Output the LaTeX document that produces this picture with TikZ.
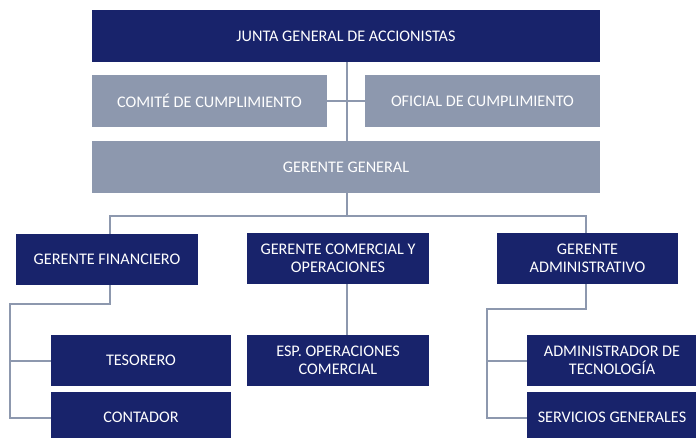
\documentclass[tikz,border=0pt]{standalone}
\usepackage{fontspec}
\setmainfont{Carlito}
\definecolor{navy}{HTML}{18236B}
\definecolor{slate}{HTML}{8D98AE}
\begin{document}
\begin{tikzpicture}[x=1pt,y=-1pt,
  box/.style={fill=navy,text=white,inner sep=0pt,align=center,font=\fontsize{16.2}{18.5}\selectfont},
  gbox/.style={box,fill=slate},
  conn/.style={draw=slate,line width=2pt}]
\useasboundingbox (0,0) rectangle (696,437);
\begin{scope}
\clip (0,0) rectangle (696,437);
% nodes
\node[box,minimum width=508pt,minimum height=52pt] (junta) at (346,36) {JUNTA GENERAL DE ACCIONISTAS};
\node[gbox,minimum width=235pt,minimum height=52pt] (comite) at (209.5,101) {COMITÉ DE CUMPLIMIENTO};
\node[gbox,minimum width=235pt,minimum height=52pt] (oficial) at (482.5,101) {OFICIAL DE CUMPLIMIENTO};
\node[gbox,minimum width=508pt,minimum height=52pt] (gg) at (346,167) {GERENTE GENERAL};
\node[box,minimum width=182pt,minimum height=51pt] (gf) at (107,259.5) {GERENTE FINANCIERO};
\node[box,minimum width=182pt,minimum height=51pt] (gc) at (338,258.5) {GERENTE COMERCIAL Y\\OPERACIONES};
\node[box,minimum width=181pt,minimum height=51pt] (ga) at (587.5,258.5) {GERENTE\\ADMINISTRATIVO};
\node[box,minimum width=180pt,minimum height=51pt] (tes) at (141,360.5) {TESORERO};
\node[box,minimum width=180pt,minimum height=51pt] (cont) at (141,417.5) {CONTADOR};
\node[box,minimum width=182pt,minimum height=51pt] (esp) at (338,360.5) {ESP. OPERACIONES\\COMERCIAL};
\node[box,minimum width=170pt,minimum height=51pt] (admt) at (612,360.5) {ADMINISTRADOR DE\\TECNOLOGÍA};
\node[box,minimum width=170pt,minimum height=51pt] (serv) at (612,417.5) {SERVICIOS GENERALES};
% connectors
\coordinate (hb) at (347,216);
\coordinate (fl) at (10,304);
\coordinate (al) at (487,309);
\draw[conn] ([xshift=1pt]junta.south) -- ([xshift=1pt]gg.north);
\draw[conn] (comite.east) -- (oficial.west);
\draw[conn] ([xshift=1pt]gg.south) -- (hb);
\draw[conn] ([xshift=3pt]gf.north) |- (hb) -| ([xshift=-1.5pt]ga.north);
\draw[conn] ([xshift=9pt]gc.south) -- ([xshift=9pt]esp.north);
\draw[conn] ([xshift=3pt]gf.south) |- (fl) |- (cont.west);
\draw[conn] (fl |- tes.west) -- (tes.west);
\draw[conn] ([xshift=-1.5pt]ga.south) |- (al) |- (serv.west);
\draw[conn] (al |- admt.west) -- (admt.west);
\end{scope}
\end{tikzpicture}
\end{document}
